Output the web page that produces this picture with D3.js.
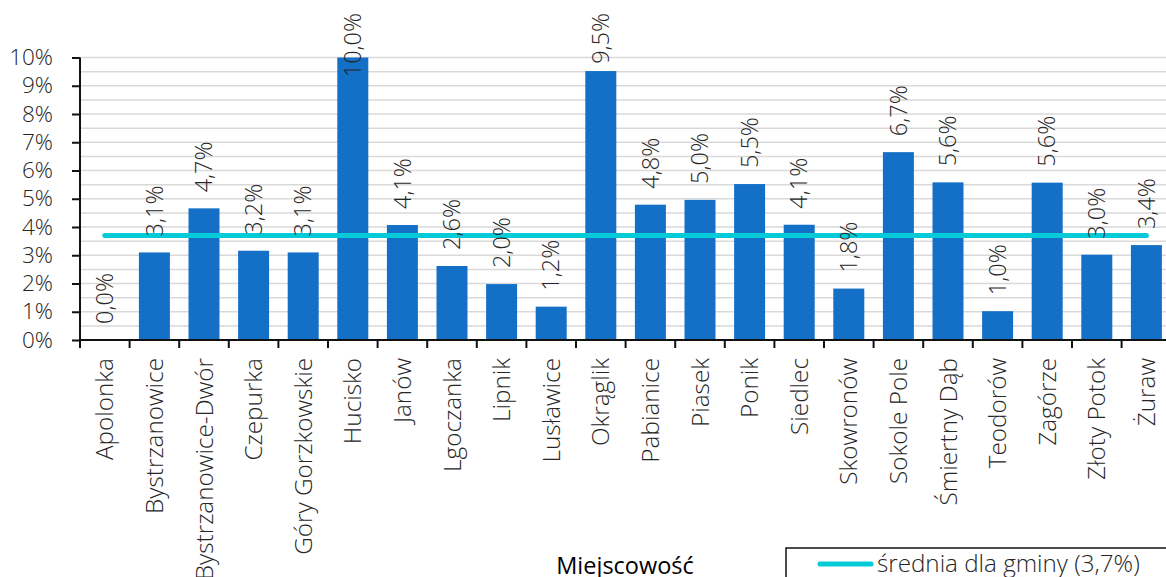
<!DOCTYPE html>
<html>
<head>
<meta charset="utf-8">
<script src="https://cdn.jsdelivr.net/npm/d3@7"></script>
<style>
  html, body { margin: 0; padding: 0; background: #fff; overflow: hidden; }
  svg { display: block; font-family: "Open Sans", sans-serif; }
</style>
</head>
<body>
<svg id="chart" width="1166" height="577"></svg>
<script>
const categories = ["Apolonka","Bystrzanowice","Bystrzanowice-Dwór","Czepurka","Góry Gorzkowskie","Hucisko","Janów","Lgoczanka","Lipnik","Lusławice","Okrąglik","Pabianice","Piasek","Ponik","Siedlec","Skowronów","Sokole Pole","Śmiertny Dąb","Teodorów","Zagórze","Złoty Potok","Żuraw"];
const values = [0.0, 3.1, 4.66, 3.16, 3.1, 10.0, 4.07, 2.62, 1.98, 1.18, 9.52, 4.79, 4.96, 5.52, 4.08, 1.82, 6.65, 5.58, 1.02, 5.57, 3.02, 3.36];
const average = 3.7;
const yTicks = [0,1,2,3,4,5,6,7,8,9,10];
const gridSteps = [0.5,1,1.5,2,2.5,3,3.5,4,4.5,5,5.5,6,6.5,7,7.5,8,8.5,9,9.5,10];
const xTitle = "Miejscowość";
const legendLabel = "średnia dla gminy (3,7%)";

(function () {
const svg = d3.select("#chart");
const plotLeft = 80, plotBottom = 340, plotTop = 57.5, band = 49.6;
const x = d3.scaleBand().domain(categories).range([plotLeft, plotLeft + band * categories.length]).paddingInner(0.375).paddingOuter(0.1875);
const y = d3.scaleLinear().domain([0, 10]).range([plotBottom, plotTop]);
const fmt = v => v.toFixed(1).replace(".", ",") + "%";

// gridlines
svg.append("g").selectAll("line").data(gridSteps).join("line")
  .attr("x1", plotLeft).attr("x2", 1166)
  .attr("y1", d => y(d)).attr("y2", d => y(d))
  .attr("stroke", "#d9d9d9").attr("stroke-width", 1.5);

// bars
svg.append("g").selectAll("rect").data(values).join("rect")
  .attr("x", (d, i) => x(categories[i]))
  .attr("width", x.bandwidth())
  .attr("y", d => y(d))
  .attr("height", d => plotBottom - y(d))
  .attr("fill", "#1470c6");

// average line
const avgLine = d3.line().x(d => d[0]).y(d => d[1]);
const cx0 = x(categories[0]) + x.bandwidth() / 2, cx1 = x(categories[categories.length - 1]) + x.bandwidth() / 2;
svg.append("path")
  .attr("d", avgLine([[cx0, y(average)], [cx1, y(average)]]))
  .attr("stroke", "#05cbd8").attr("stroke-width", 5).attr("stroke-linecap", "round").attr("fill", "none");

// y axis
const yAxis = d3.axisLeft(y).tickValues(yTicks).tickSize(8).tickPadding(19).tickFormat(d => d + "%");
const gy = svg.append("g").attr("transform", `translate(${plotLeft},0)`).call(yAxis);
gy.select(".domain").attr("stroke", "#111").attr("stroke-width", 2).attr("d", `M0,${plotTop}V${plotBottom}`);
gy.selectAll(".tick line").attr("stroke", "#111").attr("stroke-width", 2);
gy.selectAll(".tick text").attr("font-size", 22.5).attr("font-weight", 300).attr("fill", "#262626").attr("font-family", "'Open Sans', sans-serif");

// x axis
const tickPositions = d3.range(categories.length + 1).map(i => plotLeft + i * band);
const gx = svg.append("g");
gx.append("line").attr("x1", plotLeft).attr("x2", 1166).attr("y1", plotBottom).attr("y2", plotBottom).attr("stroke", "#111").attr("stroke-width", 2);
gx.selectAll("line.t").data(tickPositions).join("line").attr("class", "t")
  .attr("x1", d => d).attr("x2", d => d).attr("y1", plotBottom).attr("y2", plotBottom + 8)
  .attr("stroke", "#111").attr("stroke-width", 2);
gx.selectAll("text").data(categories).join("text")
  .attr("transform", d => `translate(${x(d) + x.bandwidth() / 2},358) rotate(-90)`)
  .attr("text-anchor", "end").attr("dy", "0.35em")
  .attr("font-size", 24.3).attr("font-weight", 300).attr("fill", "#262626")
  .text(d => d);

// data labels
const labels = svg.append("g").selectAll("text").data(values).join("text")
  .attr("text-anchor", "start").attr("dy", "0.35em")
  .attr("font-size", 23.5).attr("font-weight", 300).attr("fill", "#262626")
  .text(d => fmt(d));
labels.each(function(d, i) {
  const len = this.getComputedTextLength();
  let yy = y(d) - 16;
  if (yy - len < 13) yy = 13 + len;
  d3.select(this).attr("transform", `translate(${x(categories[i]) + x.bandwidth() / 2},${yy}) rotate(-90)`);
});

// x title
svg.append("text").attr("x", 625).attr("y", 574).attr("text-anchor", "middle")
  .attr("font-size", 23.5).attr("fill", "#000").text(xTitle);

// legend
svg.append("rect").attr("x", 786).attr("y", 548).attr("width", 400).attr("height", 60)
  .attr("fill", "#fff").attr("stroke", "#111").attr("stroke-width", 1.5);
svg.append("path").attr("d", avgLine([[820, 564], [871, 564]]))
  .attr("stroke", "#05cbd8").attr("stroke-width", 5).attr("stroke-linecap", "round");
svg.append("text").attr("x", 877).attr("y", 572).attr("font-size", 24.2).attr("font-weight", 300).attr("fill", "#262626").text(legendLabel);
})();
</script>
</body>
</html>
